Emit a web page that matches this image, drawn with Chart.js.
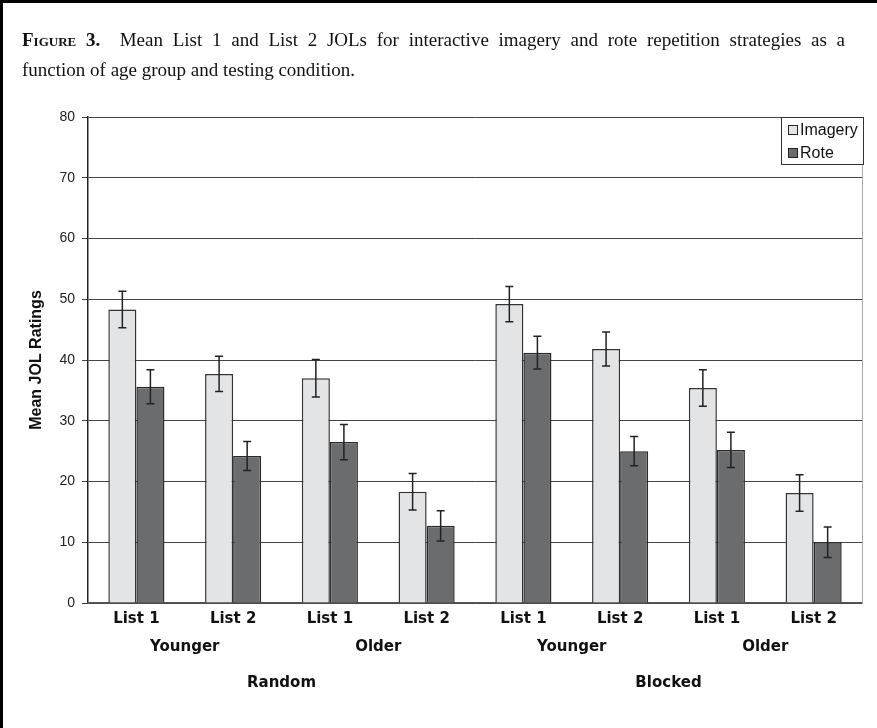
<!DOCTYPE html>
<html>
<head>
<meta charset="utf-8">
<script src="https://cdn.jsdelivr.net/npm/chart.js@4.4.1/dist/chart.umd.min.js"></script>
<style>
	html, body { margin: 0; padding: 0; background: #fff; }
	#page { position: relative; width: 877px; height: 728px; overflow: hidden; }
	#frame {
		position: absolute; left: 0; top: 0; width: 877px; height: 728px;
		border-top: 3px solid #000; border-left: 3px solid #000; box-sizing: border-box;
	}
	#caption {
		position: absolute; left: 22px; top: 25px; width: 823px;
		font-family: "Liberation Serif", "Times New Roman", serif;
		font-size: 19px; line-height: 30px; color: #111;
	}
	#caption .first { display: block; text-align: justify; text-align-last: justify; }
	#caption b { font-variant: small-caps; }
	canvas { position: absolute; left: 0; top: 0; }
</style>
</head>
<body>
<div id="page">
	<canvas id="myChart" width="877" height="728"></canvas>
	<div id="frame"></div>
	<div id="caption"><span class="first"><b>Figure 3.</b>&nbsp; Mean List 1 and List 2 JOLs for interactive imagery and rote repetition strategies as a</span>function of age group and testing condition.</div>
</div>
<script>
// chart data
const lists = ["List 1", "List 2", "List 1", "List 2", "List 1", "List 2", "List 1", "List 2"];
const ageGroups = ["Younger", "Older", "Younger", "Older"];
const conditions = ["Random", "Blocked"];
const imagery = [48.3, 37.7, 37.0, 18.3, 49.2, 41.8, 35.4, 18.1];
const rote = [35.6, 24.2, 26.5, 12.7, 41.2, 25.0, 25.2, 10.0];
const imageryErr = [3.0, 2.9, 3.1, 3.0, 2.9, 2.8, 3.0, 3.0];
const roteErr = [2.8, 2.4, 2.9, 2.5, 2.7, 2.4, 2.9, 2.5];
const yTicks = [0, 10, 20, 30, 40, 50, 60, 70, 80];

const boldFont = { family: "DejaVu Sans", size: 15, weight: "bold" };

// draws +/- error whiskers on top of every bar
const errorBars = {
	id: "errorBars",
	afterDatasetsDraw(chart) {
		const ctx = chart.ctx;
		const y = chart.scales.y;
		ctx.save();
		ctx.strokeStyle = "#222";
		ctx.lineWidth = 1.5;
		chart.data.datasets.forEach((ds, i) => {
			chart.getDatasetMeta(i).data.forEach((bar, j) => {
				const top = y.getPixelForValue(ds.data[j] + ds.errors[j]);
				const bot = y.getPixelForValue(ds.data[j] - ds.errors[j]);
				ctx.beginPath();
				ctx.moveTo(bar.x, top);
				ctx.lineTo(bar.x, bot);
				ctx.moveTo(bar.x - 4, top);
				ctx.lineTo(bar.x + 4, top);
				ctx.moveTo(bar.x - 4, bot);
				ctx.lineTo(bar.x + 4, bot);
				ctx.stroke();
			});
		});
		ctx.restore();
	},
};

// boxed legend in the top right corner of the plot, plus the plot's right edge
const boxLegend = {
	id: "boxLegend",
	afterDraw(chart) {
		const ctx = chart.ctx;
		const area = chart.chartArea;
		ctx.save();
		ctx.strokeStyle = "#aaa";
		ctx.lineWidth = 1;
		ctx.beginPath();
		ctx.moveTo(area.right + 0.5, area.top);
		ctx.lineTo(area.right + 0.5, area.bottom);
		ctx.stroke();

		const w = 83, h = 48;
		const x0 = area.right + 2 - w, y0 = area.top;
		ctx.fillStyle = "#fff";
		ctx.fillRect(x0, y0, w, h);
		ctx.strokeStyle = "#333";
		ctx.strokeRect(x0 + 0.5, y0 + 0.5, w - 1, h - 1);
		ctx.font = "16px 'Liberation Sans'";
		ctx.textBaseline = "middle";
		chart.data.datasets.forEach((ds, i) => {
			const cy = y0 + 13 + i * 23;
			ctx.fillStyle = ds.backgroundColor;
			ctx.fillRect(x0 + 7, cy - 5, 10, 10);
			ctx.strokeStyle = "#222";
			ctx.strokeRect(x0 + 7.5, cy - 4.5, 9, 9);
			ctx.fillStyle = "#111";
			ctx.fillText(ds.label, x0 + 19, cy + 1);
		});
		ctx.restore();
	},
};

const ctx = document.getElementById("myChart");
const chart = new Chart(ctx, {
	type: "bar",
	data: {
		labels: lists,
		datasets: [
			{
				label: "Imagery",
				data: imagery,
				errors: imageryErr,
				backgroundColor: "#e3e4e6",
				borderColor: "#333",
				borderWidth: 1.5,
			},
			{
				label: "Rote",
				data: rote,
				errors: roteErr,
				backgroundColor: "#6b6c6e",
				borderColor: "#2a2a2a",
				borderWidth: 1.5,
			},
		],
	},
	options: {
		responsive: false,
		animation: false,
		layout: { padding: { top: 117, right: 15, bottom: 36, left: 0 } },
		datasets: { bar: { categoryPercentage: 0.58, barPercentage: 1 } },
		plugins: { legend: { display: false }, tooltip: { enabled: false } },
		scales: {
			y: {
				min: 0,
				max: 80,
				afterBuildTicks: (scale) => {
					scale.ticks = yTicks.map((v) => ({ value: v }));
				},
				afterFit: (scale) => {
					scale.width = 88;
				},
				ticks: {
					padding: 7,
					color: "#222",
					font: { family: "Liberation Sans", size: 14 },
				},
				grid: { color: "#444", lineWidth: 1, tickLength: 6 },
				border: { color: "#222", width: 1.5 },
				title: {
					display: true,
					text: "Mean JOL Ratings",
					color: "#111",
					padding: { top: 27, bottom: 0 },
					font: { family: "Liberation Sans", size: 16, weight: "bold" },
				},
			},
			x: {
				weight: 0,
				grid: { display: false, drawTicks: false },
				border: { color: "#555", width: 1.5 },
				afterFit: (scale) => {
					scale.height = 25;
				},
				ticks: { padding: 7, color: "#111", maxRotation: 0, autoSkip: false, font: boldFont },
			},
			x2: {
				type: "category",
				position: "bottom",
				labels: ageGroups,
				offset: true,
				weight: 1,
				grid: { display: false, drawTicks: false },
				border: { display: false },
				afterFit: (scale) => {
					scale.height = 28;
				},
				ticks: { padding: 10, color: "#111", maxRotation: 0, autoSkip: false, font: boldFont },
			},
			x3: {
				type: "category",
				position: "bottom",
				labels: conditions,
				offset: true,
				weight: 2,
				grid: { display: false, drawTicks: false },
				border: { display: false },
				afterFit: (scale) => {
					scale.height = 36;
				},
				ticks: { padding: 18, color: "#111", maxRotation: 0, autoSkip: false, font: boldFont },
			},
		},
	},
	plugins: [errorBars, boxLegend],
});
</script>
</body>
</html>
